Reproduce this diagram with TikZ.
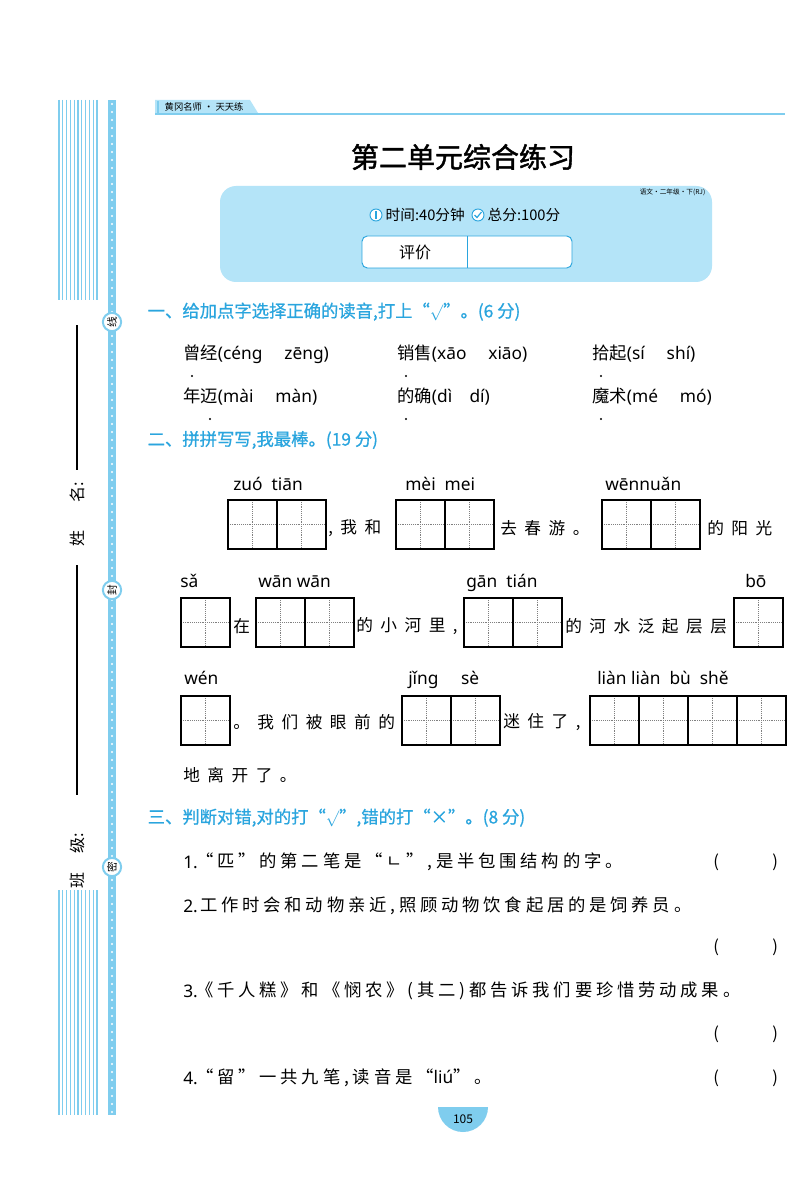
\documentclass[tikz,border=0pt]{standalone}
\usepackage{fontspec}
\setmainfont{Noto Sans CJK SC}
\newfontfamily\py{Noto Sans}
\newfontfamily\cjkb{Noto Sans CJK SC}[FakeBold=1.5]
\newfontfamily\cjkh{Noto Sans CJK SC}[FakeBold=0.8]
\definecolor{hblue}{HTML}{2AA5DE}
\definecolor{lblue}{HTML}{B4E4F8}
\definecolor{mblue}{HTML}{7FCDEE}
\tikzset{
 cell/.style={draw=black,line width=0.9pt},
 guide/.style={draw=gray,densely dotted,line width=0.4pt},
 head/.style={anchor=west,text=hblue,font=\cjkh\fontsize{13}{15}\selectfont},
 body/.style={anchor=west,font=\fontsize{12.5}{15}\selectfont},
 pyl/.style={anchor=base west,font=\py\fontsize{13}{15}\selectfont},
}
\newcommand{\tzg}[3]{% x y n
 \foreach \i in {1,...,#3}{
  \pgfmathsetmacro{\xa}{#1+(\i-1)*49}
  \draw[guide] (\xa+24.5,#2) -- (\xa+24.5,#2+49);
  \draw[guide] (\xa,#2+24.5) -- (\xa+49,#2+24.5);
  \draw[cell] (\xa,#2) rectangle (\xa+49,#2+49);
 }}
\begin{document}
\begin{tikzpicture}[x=0.75pt,y=-0.75pt]
\useasboundingbox (0,0) rectangle (800,1187);
\fill[white] (0,0) rectangle (800,1187);
% left margin
\foreach \k in {0,...,10}{
 \draw[mblue,line width=0.9pt] (59+\k*3.8,100) -- (59+\k*3.8,300);
 \draw[mblue,line width=0.9pt] (59+\k*3.8,890) -- (59+\k*3.8,1115);}
\fill[mblue] (108,100) rectangle (116,1115);
\foreach \yy in {104,112,...,1112}{\fill[white] (112,\yy) circle (1.1);}
\foreach \yy/\t in {322/线,590/封,867/密}{
 \node[circle,draw=mblue,fill=white,line width=1.5pt,inner sep=1pt,font=\fontsize{8}{9}\selectfont,rotate=90] (m\t) at (112,\yy) {\t};}
\draw[line width=0.9pt] (77,325) -- (77,470);
\draw[line width=0.9pt] (77,565) -- (77,795);
\node[rotate=90,font=\fontsize{12}{14}\selectfont] (xm) at (77,492) {名:};
\node[rotate=90,font=\fontsize{12}{14}\selectfont] (xx) at (77,538) {姓};
\node[rotate=90,font=\fontsize{12}{14}\selectfont] (bj) at (77,843) {级:};
\node[rotate=90,font=\fontsize{12}{14}\selectfont] (bb) at (77,880) {班};
% header
\fill[lblue] (155,100) -- (250,100) -- (258,113) -- (155,113) -- cycle;
\draw[mblue,line width=1.5pt] (158,101) -- (158,113);
\draw[mblue,line width=1pt] (155,114) -- (785,114);
\node[anchor=west,font=\fontsize{7}{8}\selectfont] (hd) at (160,107) {黄冈名师 · 天天练};
\node[font=\cjkb\fontsize{21}{24}\selectfont] (title) at (463,157) {第二单元综合练习};
\fill[lblue,rounded corners=12] (220,186) rectangle (712,282);
\node[anchor=east,font=\fontsize{5}{6}\selectfont] (sub) at (710,192) {语文·二年级·下(RJ)};
\draw[hblue,fill=white,line width=0.7pt] (376,215) circle (6);
\draw[hblue,line width=0.9pt] (376,211) -- (376,219);
\draw[hblue,fill=white,line width=0.7pt] (478,215) circle (6);
\draw[hblue,line width=0.9pt] (474.5,215) -- (477,217.5) -- (481.5,212);
\node[anchor=west,font=\fontsize{11}{13}\selectfont] (time) at (381,215) {时间:40分钟};
\node[anchor=west,font=\fontsize{11}{13}\selectfont] (score) at (483,215) {总分:100分};
\draw[hblue,fill=white,rounded corners=4,line width=0.7pt] (362,236) rectangle (572,268);
\draw[hblue,line width=0.7pt] (467,236) -- (467,268);
\node[font=\fontsize{12}{14}\selectfont] (pj) at (415,252) {评价};
% section 1
\node[head] (s1) at (143,312) {一、给加点字选择正确的读音,打上“$\surd$”。(6 分)};
\foreach \x/\y/\c/\p in {183/354/曾经/(céng\quad\ zēng),397/354/销售/(xāo\quad\ xiāo),592/354/拾起/(sí\quad\ shí),183/397/年迈/(mài\quad\ màn),397/397/的确/(dì\quad dí),592/397/魔术/(mé\quad\ mó)}{
 \node[body,inner sep=0,font=\fontsize{13}{15}\selectfont] (c\x\y) at (\x,\y) {\c\py\p};}
\foreach \x/\y in {192/376,406/376,601/376,210/419,406/419,601/419}{\fill (\x,\y) circle (1.2);}
% section 2
\node[head] (s2) at (143,440) {二、拼拼写写,我最棒。(19 分)};
\tzg{228}{500}{2}\tzg{396}{500}{2}\tzg{602}{500}{2}
\tzg{181}{598}{1}\tzg{256}{598}{2}\tzg{464}{598}{2}\tzg{734}{598}{1}
\tzg{181}{696}{1}\tzg{402}{696}{2}\tzg{590}{696}{4}
\foreach \x/\y/\t in {233/490/zuó\ \ tiān,405/490/mèi\ \ mei,605/490/wēnnuǎn,
 180/587/sǎ,258/587/wān wān,466/587/gān\ \ tián,745/587/bō,
 184/684/wén,408/684/jǐng\ \ \ \ \ sè,597/684/liàn liàn\ \ bù\ \ shě}{
 \node[pyl,inner sep=0] (p\x\y) at (\x,\y) {\t};}
\tikzset{sp/.style={body,inner sep=0,font=\fontsize{12.5}{15}\selectfont\addfontfeature{LetterSpace=45}}}
\node[sp] (t1) at (328,528) {,我和};
\node[sp] (t2) at (500,528) {去春游。};
\node[sp] (t3) at (707,528) {的阳光};
\node[sp] (t4) at (233,626) {在};
\node[sp] (t5) at (356,626) {的小河里,};
\node[sp] (t6) at (565,626) {的河水泛起层层};
\node[sp] (t7) at (233,722) {。我们被眼前的};
\node[sp] (t8) at (503,722) {迷住了,};
\node[sp] (t9) at (183,775) {地离开了。};
% section 3
\node[head] (s3) at (143,818) {三、判断对错,对的打“$\surd$”,错的打“×”。(8 分)};
\tikzset{q/.style={body,inner sep=0,font=\fontsize{13}{15}\selectfont\addfontfeature{LetterSpace=22}},
 qn/.style={body,inner sep=0,font=\py\bfseries\fontsize{13}{15}\selectfont}}
\foreach \n/\y in {1/862,2/906,3/991,4/1078}{\node[qn] (n\n) at (183,\y) {\n.};}
\node[q] (q1) at (196,862) {“匹”的第二笔是“ㄴ”,是半包围结构的字。};
\node[q] (q2) at (200,906) {工作时会和动物亲近,照顾动物饮食起居的是饲养员。};
\node[q] (q3) at (196,991) {《千人糕》和《悯农》(其二)都告诉我们要珍惜劳动成果。};
\node[q] (q4) at (196,1078) {“留”一共九笔,读音是“{\py liú}”。};
\foreach \y in {862,947,1034,1078}{
 \node[body,inner sep=0] (l\y) at (713,\y) {(};
 \node[body,inner sep=0] (r\y) at (772,\y) {)};}
% page number
\fill[mblue] (438,1107) arc (180:0:25 and 25) -- cycle;
\node[font=\fontsize{9}{10}\selectfont] (pg) at (463,1119) {105};
\end{tikzpicture}
\end{document}
